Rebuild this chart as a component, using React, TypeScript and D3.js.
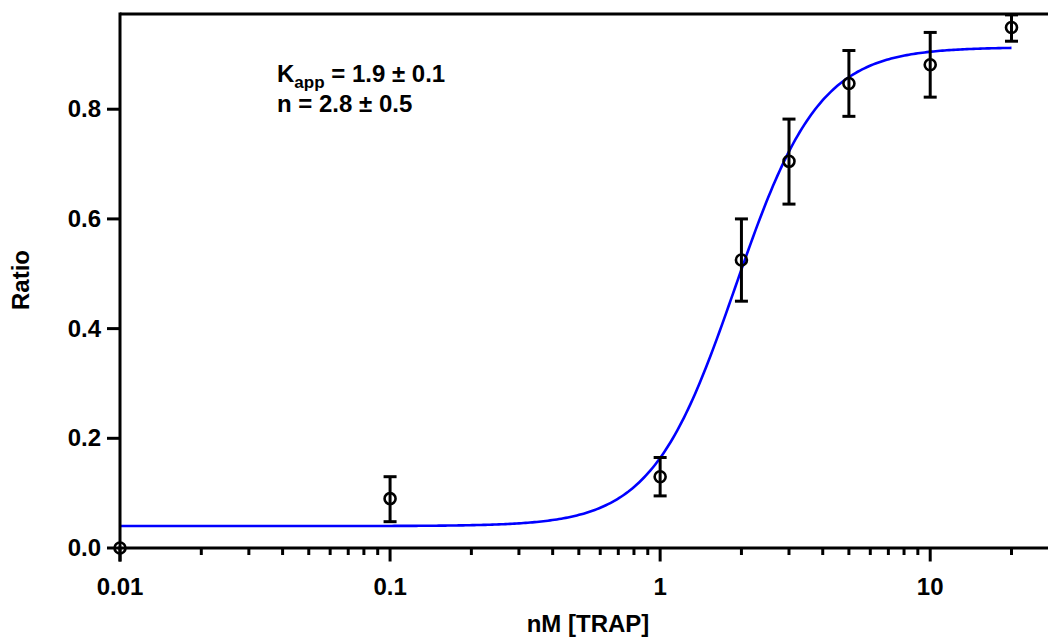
import React from "react";
import * as d3 from "d3";

// Titration of TRAP: mean ratio with error bars, fitted with a Hill curve
const concentrations = [0.01, 0.1, 1, 2, 3, 5, 10, 20];
const ratios = [0.0, 0.09, 0.13, 0.525, 0.705, 0.847, 0.881, 0.949];
const errLow = [0.0, 0.048, 0.095, 0.45, 0.627, 0.787, 0.822, 0.924];
const errHigh = [0.0, 0.13, 0.165, 0.6, 0.782, 0.907, 0.94, 0.972];

// Hill fit parameters
const fitBase = 0.04;
const fitTop = 0.913;
const fitK = 1.9;
const fitN = 2.8;

const xTickValues = [0.01, 0.1, 1, 10];
const xTickLabels = ["0.01", "0.1", "1", "10"];
const yTickValues = [0.0, 0.2, 0.4, 0.6, 0.8];
const yTickLabels = ["0.0", "0.2", "0.4", "0.6", "0.8"];

const W = 1048;
const H = 637;
const left = 120;
const right = 1048;
const top = 14;
const bottom = 548;

const FONT = "'Liberation Sans', Arial, Helvetica, sans-serif";

export default function App() {
  const x = d3.scaleLog().domain([0.01, 27.3]).range([left, right]);
  const y = d3.scaleLinear().domain([0, 0.9736]).range([bottom, top]);

  const hill = (c: number) =>
    fitBase + (fitTop - fitBase) * Math.pow(c, fitN) / (Math.pow(fitK, fitN) + Math.pow(c, fitN));

  const curvePts: [number, number][] = d3
    .range(0, 401)
    .map((i) => {
      const lc = Math.log10(0.01) + (i / 400) * (Math.log10(20) - Math.log10(0.01));
      const c = Math.pow(10, lc);
      return [c, hill(c)];
    });
  const line = d3
    .line<[number, number]>()
    .x((d) => x(d[0]))
    .y((d) => y(d[1]))
    .curve(d3.curveLinear);

  // minor ticks on the log axis
  const minor: number[] = [];
  for (let dec = 0.01; dec < 30; dec *= 10) {
    for (let m = 2; m <= 9; m++) {
      const v = +(dec * m).toPrecision(3);
      if (x(v) <= right) minor.push(v);
    }
  }

  const sw = 3;
  return (
    <svg width={W} height={H} style={{ display: "block", position: "absolute", left: 0, top: 0 }}>
      <rect width={W} height={H} fill="#fff" />
      {/* fitted curve */}
      <path d={line(curvePts) || ""} fill="none" stroke="#0000ff" strokeWidth={2.6} />

      {/* frame */}
      <line x1={left} x2={right} y1={top} y2={top} stroke="#000" strokeWidth={sw} />
      <line x1={left} x2={left} y1={top - 1.5} y2={bottom + 13.5} stroke="#000" strokeWidth={sw} />
      <line x1={left - 1.5} x2={right} y1={bottom} y2={bottom} stroke="#000" strokeWidth={sw} />

      {/* x ticks */}
      {xTickValues.map((v, i) => (
        <g key={"xt" + i}>
          <line x1={x(v)} x2={x(v)} y1={bottom} y2={bottom + 13.5} stroke="#000" strokeWidth={sw} />
          <text
            x={x(v)}
            y={595}
            textAnchor="middle"
            fontFamily={FONT}
            fontWeight="bold"
            fontSize={24}
          >
            {xTickLabels[i]}
          </text>
        </g>
      ))}
      {minor.map((v, i) => (
        <line key={"mt" + i} x1={x(v)} x2={x(v)} y1={bottom} y2={bottom + 7} stroke="#000" strokeWidth={sw} />
      ))}

      {/* y ticks */}
      {yTickValues.map((v, i) => (
        <g key={"yt" + i}>
          <line x1={left - 13} x2={left} y1={y(v)} y2={y(v)} stroke="#000" strokeWidth={sw} />
          <text
            x={101}
            y={y(v) + 8}
            textAnchor="end"
            fontFamily={FONT}
            fontWeight="bold"
            fontSize={24}
          >
            {yTickLabels[i]}
          </text>
        </g>
      ))}

      {/* axis titles */}
      <text x={588} y={632} textAnchor="middle" fontFamily={FONT} fontWeight="bold" fontSize={24}>
        nM [TRAP]
      </text>
      <text
        transform={`translate(29,280) rotate(-90)`}
        textAnchor="middle"
        fontFamily={FONT}
        fontWeight="bold"
        fontSize={24}
      >
        Ratio
      </text>

      {/* error bars and markers */}
      {concentrations.map((c, i) => {
        const cx = x(c);
        return (
          <g key={"pt" + i}>
            {errHigh[i] > errLow[i] && (
              <g stroke="#000" strokeWidth={sw}>
                <line x1={cx} x2={cx} y1={y(errHigh[i])} y2={y(errLow[i])} />
                <line x1={cx - 6.5} x2={cx + 6.5} y1={y(errHigh[i])} y2={y(errHigh[i])} />
                <line x1={cx - 6.5} x2={cx + 6.5} y1={y(errLow[i])} y2={y(errLow[i])} />
              </g>
            )}
            <circle cx={cx} cy={y(ratios[i])} r={5.5} fill="none" stroke="#000" strokeWidth={2.6} />
          </g>
        );
      })}

      {/* fit annotation */}
      <text x={277} y={82} fontFamily={FONT} fontWeight="bold" fontSize={24}>
        K
        <tspan fontSize={17} dy={6}>app</tspan>
        <tspan dy={-6}> = 1.9 ± 0.1</tspan>
      </text>
      <text x={277} y={112} fontFamily={FONT} fontWeight="bold" fontSize={24}>
        n = 2.8 ± 0.5
      </text>
    </svg>
  );
}
